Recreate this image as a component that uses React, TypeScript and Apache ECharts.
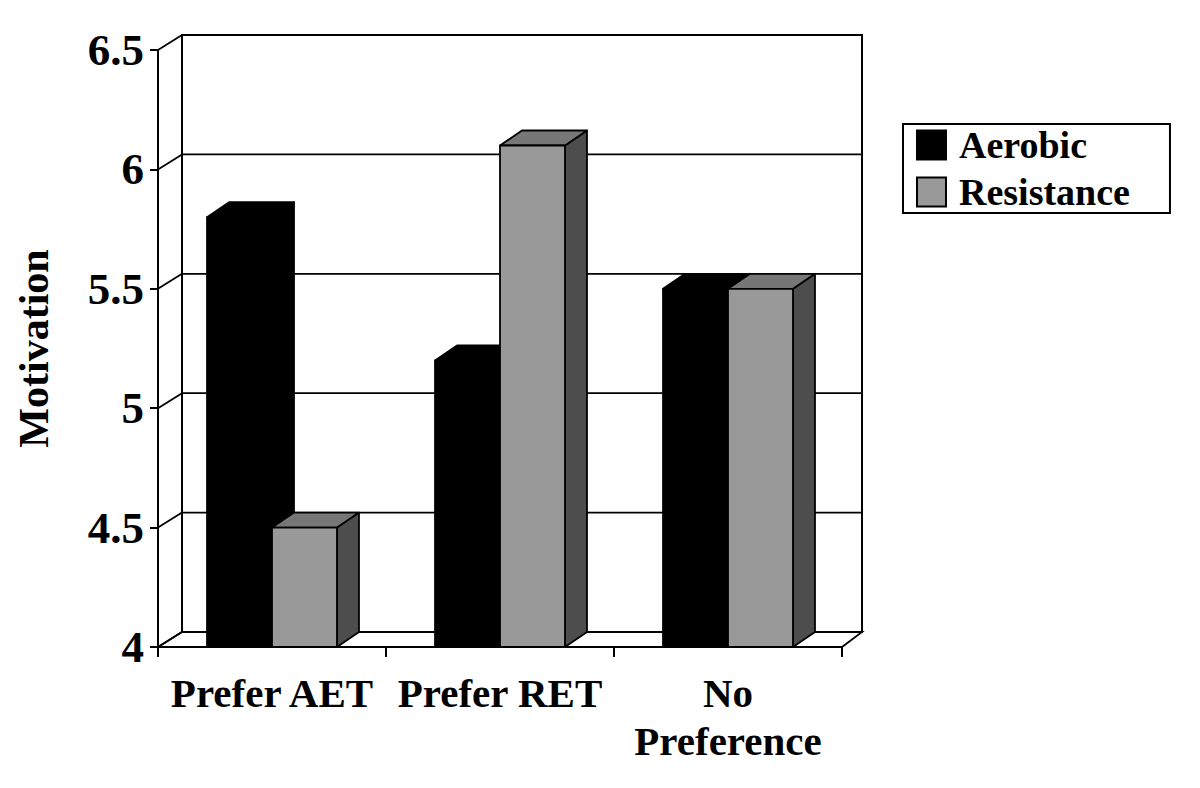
import React, { useEffect, useRef } from "react";
import * as echarts from "echarts";

const categories = ["Prefer AET", "Prefer RET", "No\nPreference"];
const aerobic = [5.8, 5.2, 5.5];
const resistance = [4.5, 6.1, 5.5];
const yTicks = [4, 4.5, 5, 5.5, 6, 6.5];
const yMin = 4;
const yMax = 6.5;
const yStep = 0.5;

const FONT = "'Liberation Serif', 'Times New Roman', serif";
const WALL_DX = 24;
const WALL_DY = -15;
const BAR_DX = 22;
const BAR_DY = -15;
const BAR_FRAC = 0.285;

function renderFrame(params: any, api: any) {
  const bw = api.size([1, 0])[0];
  const c0 = api.coord([0, yMin]);
  const left = c0[0] - bw / 2;
  const right = api.coord([categories.length - 1, yMin])[0] + bw / 2;
  const bottom = c0[1];
  const top = api.coord([0, yMax])[1];
  const children: any[] = [];
  children.push({
    type: "rect",
    shape: { x: left + WALL_DX, y: top + WALL_DY, width: right - left - 4, height: bottom - top },
    style: { fill: "#fff", stroke: "#000", lineWidth: 2 },
  });
  children.push({
    type: "polygon",
    shape: {
      points: [
        [left, bottom],
        [right, bottom],
        [right + WALL_DX - 4, bottom + WALL_DY],
        [left + WALL_DX, bottom + WALL_DY],
      ],
    },
    style: { fill: "#fff", stroke: "#000", lineWidth: 1.8 },
  });
  yTicks.forEach((v) => {
    const y = api.coord([0, v])[1];
    children.push({
      type: "line",
      shape: { x1: left, y1: y, x2: left + WALL_DX, y2: y + WALL_DY },
      style: { stroke: "#000", lineWidth: 1.8 },
    });
    if (v > yMin && v < yMax) {
      children.push({
        type: "line",
        shape: { x1: left + WALL_DX, y1: y + WALL_DY, x2: right + WALL_DX - 4, y2: y + WALL_DY },
        style: { stroke: "#000", lineWidth: 1.8 },
      });
    }
  });
  return { type: "group", children };
}

function makeBar(sign: number, front: string, topC: string, side: string) {
  return (params: any, api: any) => {
    const idx = api.value(0);
    const val = api.value(1);
    const p = api.coord([idx, val]);
    const b = api.coord([idx, yMin]);
    const bw = api.size([1, 0])[0];
    const w = bw * BAR_FRAC;
    const x0 = sign < 0 ? p[0] - w : p[0];
    const x1 = x0 + w;
    const yt = p[1];
    const yb = b[1];
    const stroke = { stroke: "#000", lineWidth: 1.8, lineJoin: "round" };
    return {
      type: "group",
      children: [
        {
          type: "polygon",
          shape: { points: [[x1, yt], [x1 + BAR_DX, yt + BAR_DY], [x1 + BAR_DX, yb + BAR_DY], [x1, yb]] },
          style: { fill: side, ...stroke },
        },
        {
          type: "polygon",
          shape: { points: [[x0, yt], [x0 + BAR_DX, yt + BAR_DY], [x1 + BAR_DX, yt + BAR_DY], [x1, yt]] },
          style: { fill: topC, ...stroke },
        },
        {
          type: "rect",
          shape: { x: x0, y: yt, width: w, height: yb - yt },
          style: { fill: front, ...stroke },
        },
      ],
    };
  };
}

export default function App() {
  const ref = useRef<HTMLDivElement>(null);
  useEffect(() => {
    if (!ref.current) return;
    const chart = echarts.init(ref.current, undefined, { renderer: "svg" });
    chart.setOption({
      animation: false,
      backgroundColor: "#fff",
      grid: { left: 158, right: 358, top: 50, bottom: 141, containLabel: false },
      legend: {
        data: ["Aerobic", "Resistance"],
        orient: "vertical",
        left: 903,
        top: 124,
        icon: "rect",
        itemWidth: 29,
        itemHeight: 29,
        itemGap: 9,
        padding: [2, 40, 2, 13],
        borderColor: "#000",
        borderWidth: 2,
        backgroundColor: "#fff",
        selectedMode: false,
        textStyle: {
          fontSize: 38,
          fontWeight: "bold",
          fontFamily: FONT,
          color: "#000",
          padding: [0, 0, 0, 8],
        },
      },
      xAxis: {
        type: "category",
        data: categories,
        boundaryGap: true,
        axisLine: { show: true, lineStyle: { color: "#000", width: 2 } },
        axisTick: { show: true, length: 10, lineStyle: { color: "#000", width: 2 } },
        axisLabel: {
          interval: 0,
          margin: 22,
          fontSize: 41,
          fontWeight: "bold",
          fontFamily: FONT,
          color: "#000",
          lineHeight: 48,
        },
        splitLine: { show: false },
      },
      yAxis: {
        type: "value",
        min: yMin,
        max: yMax,
        interval: yStep,
        name: "Motivation",
        nameLocation: "middle",
        nameGap: 103,
        nameTextStyle: { fontSize: 42, fontWeight: "bold", fontFamily: FONT, color: "#000" },
        axisLine: { show: true, lineStyle: { color: "#000", width: 2 } },
        axisTick: { show: true, length: 8, lineStyle: { color: "#000", width: 2 } },
        axisLabel: {
          margin: 14,
          fontSize: 45,
          fontWeight: "bold",
          fontFamily: FONT,
          color: "#000",
        },
        splitLine: { show: false },
      },
      series: [
        {
          type: "custom",
          name: "frame",
          silent: true,
          clip: false,
          z: 1,
          renderItem: renderFrame,
          data: [[0, yMin]],
        },
        {
          type: "custom",
          name: "Aerobic",
          clip: false,
          z: 2,
          itemStyle: { color: "#000", borderColor: "#000", borderWidth: 1.5 },
          renderItem: makeBar(-1, "#000", "#000", "#000"),
          encode: { x: 0, y: 1 },
          data: aerobic.map((v, i) => [i, v]),
        },
        {
          type: "custom",
          name: "Resistance",
          clip: false,
          z: 3,
          itemStyle: { color: "#999999", borderColor: "#000", borderWidth: 1.5 },
          renderItem: makeBar(1, "#999999", "#777777", "#4d4d4d"),
          encode: { x: 0, y: 1 },
          data: resistance.map((v, i) => [i, v]),
        },
      ],
    });
    return () => chart.dispose();
  }, []);
  return (
    <div
      ref={ref}
      style={{ position: "fixed", left: 0, top: 0, width: 1200, height: 788, background: "#fff" }}
    />
  );
}
